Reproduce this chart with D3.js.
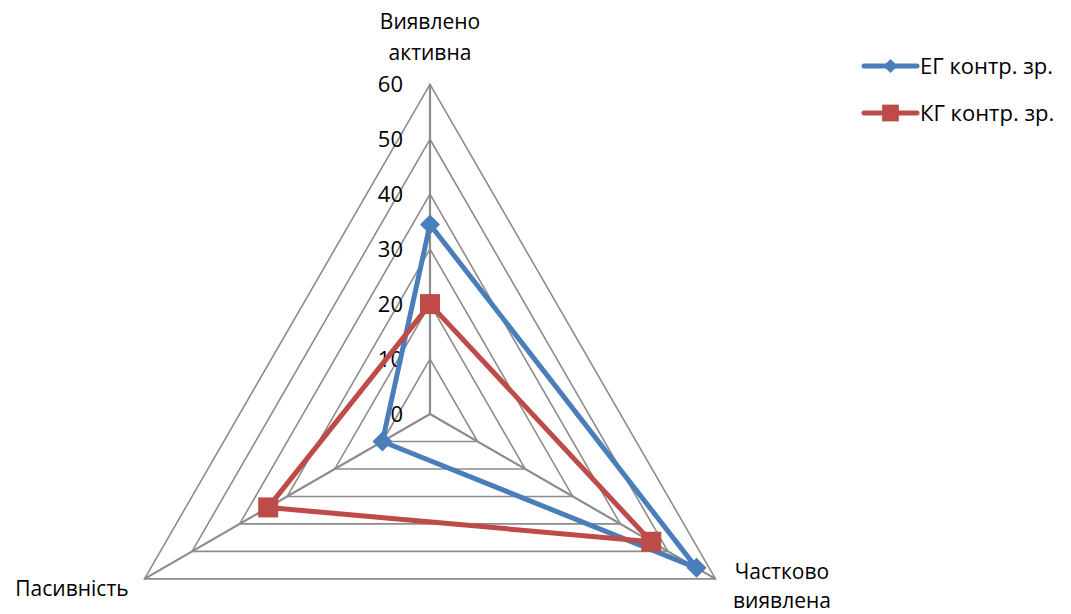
<!DOCTYPE html>
<html>
<head>
<meta charset="utf-8">
<script src="https://cdn.jsdelivr.net/npm/d3@7"></script>
<style>
  html, body { margin: 0; padding: 0; background: #fff; }
  svg { display: block; font-family: "Open Sans", "Noto Sans", sans-serif; }
</style>
</head>
<body>
<svg id="chart" width="1071" height="614"></svg>
<script>
// Radar axes (clockwise from the top) and the two groups' scores
const categories = [["Виявлено", "активна"], ["Частково", "виявлена"], ["Пасивність"]];
const seriesNames = ["ЕГ контр. зр.", "КГ контр. зр."];
const egValues = [34.5, 56, 10];
const kgValues = [20, 46.5, 34];
const tickValues = [0, 10, 20, 30, 40, 50, 60];

const cx = 430, cy = 414, R = 329.7;
const colors = ["#4A7EBB", "#BE4B48"];
const gridColor = "#8C8C8C";

const svg = d3.select("#chart");
const r = d3.scaleLinear().domain([0, 60]).range([0, R]);
const angle = d3.scalePoint().domain(d3.range(categories.length)).range([0, 240]);
const pt = (i, v) => {
  const a = (angle(i) - 90) * Math.PI / 180;
  return [cx + r(v) * Math.cos(a), cy + r(v) * Math.sin(a)];
};

// Concentric triangular grid
const grid = svg.append("g");
tickValues.filter(t => t > 0).forEach(t => {
  grid.append("path")
    .attr("d", d3.line()(categories.map((c, i) => pt(i, t))) + "Z")
    .attr("fill", "none").attr("stroke", gridColor).attr("stroke-width", 1.6);
});
// Spokes
categories.forEach((c, i) => {
  const [x, y] = pt(i, 60);
  grid.append("line").attr("x1", cx).attr("y1", cy).attr("x2", x).attr("y2", y)
    .attr("stroke", gridColor).attr("stroke-width", 2.2);
});

// Value ticks along the top spoke
svg.append("g").selectAll("text").data(tickValues).join("text")
  .attr("x", cx - 27).attr("y", d => pt(0, d)[1])
  .attr("dy", "0.36em").attr("text-anchor", "end")
  .attr("font-size", 22).attr("fill", "#000").text(d => d);

// Category labels (two-line ones are stacked with tspans)
const lab = svg.append("g").attr("font-size", 21).attr("fill", "#000");
lab.append("text").attr("x", cx).attr("y", 29).attr("text-anchor", "middle")
  .selectAll("tspan").data(categories[0]).join("tspan")
  .attr("x", cx).attr("dy", (d, i) => i ? 31 : 0).text(d => d);
lab.append("text").attr("x", 782).attr("y", 579).attr("text-anchor", "middle")
  .selectAll("tspan").data(categories[1]).join("tspan")
  .attr("x", 782).attr("dy", (d, i) => i ? 29 : 0).text(d => d);
lab.append("text").attr("x", 72).attr("y", 596).attr("text-anchor", "middle")
  .text(categories[2][0]);

// Markers: a square turned 45° for the diamond, a plain square otherwise
const markerRot = [45, 0];
const plotSizes = [200, 400];
const legendSizes = [100, 280];

// Series
const allSeries = [egValues, kgValues];
allSeries.forEach((vals, s) => {
  const g = svg.append("g");
  const pts = vals.map((v, i) => pt(i, v));
  g.append("path").attr("d", d3.line()(pts) + "Z")
    .attr("fill", "none").attr("stroke", colors[s]).attr("stroke-width", 5)
    .attr("stroke-linejoin", "round");
  g.selectAll("path.m").data(pts).join("path").attr("class", "m")
    .attr("transform", d => `translate(${d[0]},${d[1]}) rotate(${markerRot[s]})`)
    .attr("d", d3.symbol(d3.symbolSquare, plotSizes[s]))
    .attr("fill", colors[s]);
});

// Legend
const legend = svg.append("g");
seriesNames.forEach((name, s) => {
  const y = 66 + s * 47;
  legend.append("line").attr("x1", 864).attr("x2", 917).attr("y1", y).attr("y2", y)
    .attr("stroke", colors[s]).attr("stroke-width", 5).attr("stroke-linecap", "round");
  legend.append("path").attr("transform", `translate(890.5,${y}) rotate(${markerRot[s]})`)
    .attr("d", d3.symbol(d3.symbolSquare, legendSizes[s])).attr("fill", colors[s]);
  legend.append("text").attr("x", 920).attr("y", y).attr("dy", "0.36em")
    .attr("font-size", 22).attr("fill", "#000").text(name);
});
</script>
</body>
</html>
